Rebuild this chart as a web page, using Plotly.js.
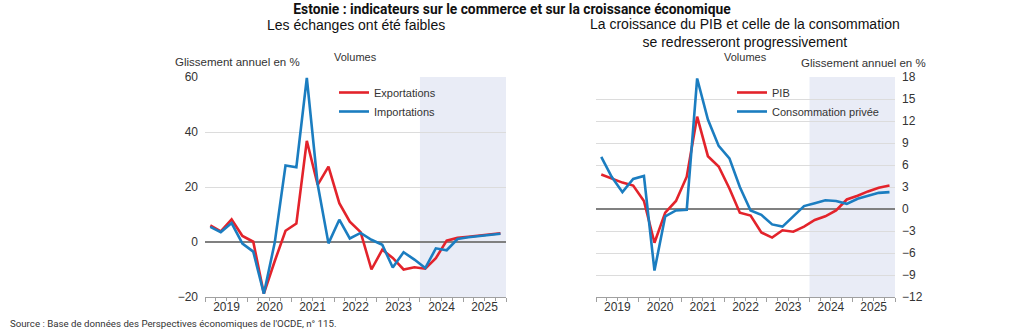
<!DOCTYPE html>
<html><head><meta charset="utf-8">
<script src="https://cdn.plot.ly/plotly-3.0.1.min.js"></script>
<style>html,body{margin:0;padding:0;background:#fff}#chart{width:1024px;height:331px}</style>
</head><body><div id="chart"></div>
<script>
// Quarters (categories)
const quarters = ["2019-T1","2019-T2","2019-T3","2019-T4","2020-T1","2020-T2","2020-T3","2020-T4",
  "2021-T1","2021-T2","2021-T3","2021-T4","2022-T1","2022-T2","2022-T3","2022-T4",
  "2023-T1","2023-T2","2023-T3","2023-T4","2024-T1","2024-T2","2024-T3","2024-T4",
  "2025-T1","2025-T2","2025-T3","2025-T4"];
// Left panel: trade volumes, y-o-y %
const exportations = [6.0,3.9,8.2,2.2,0.1,-18.8,-7.0,4.1,6.7,36.8,20.8,27.4,14.1,7.4,3.6,-10.0,-2.8,-5.8,-10.0,-9.2,-9.7,-5.9,0.5,1.5,1.9,2.3,2.7,3.2];
const importations = [5.5,3.6,6.9,-0.6,-3.5,-18.8,-0.3,27.8,27.2,59.7,21.0,-0.5,8.1,1.3,3.3,0.8,-1.0,-9.3,-3.7,-6.4,-9.5,-2.3,-3.0,1.1,1.7,2.1,2.5,3.0];
// Right panel: GDP and private consumption, y-o-y %
const pib = [4.7,4.2,3.6,3.2,1.1,-4.6,-0.5,1.1,4.4,12.6,7.2,5.8,2.8,-0.5,-0.9,-3.2,-3.9,-2.9,-3.1,-2.4,-1.5,-1.0,-0.2,1.3,1.8,2.4,2.9,3.2];
const consommation = [7.1,4.4,2.3,4.1,4.5,-8.4,-1.0,-0.2,-0.1,17.8,12.2,8.6,6.9,3.0,-0.2,-0.8,-2.1,-2.4,-1.0,0.4,0.8,1.2,1.1,0.7,1.4,1.8,2.2,2.3];
const projectionStart = "2024-01-01";
const rangeEnd = "2026-01-01";

const midMonth = {"T1":"02-15","T2":"05-15","T3":"08-15","T4":"11-15"};
const xDates = quarters.map(q => { const [y,t] = q.split("-"); return y + "-" + midMonth[t]; });

const FONT = "Liberation Sans, Arial, sans-serif";
const NARROW = "Liberation Sans Narrow, Roboto, sans-serif";
const RED = "#e3232b", BLUE = "#1b7dc0";
const W = 1024, H = 331;
const px = v => v / W, py = v => 1 - v / H;

const traces = [
  {x:xDates, y:exportations, name:"Exportations", type:"scatter", mode:"lines", line:{color:RED,width:2.6}, xaxis:"x", yaxis:"y", legend:"legend"},
  {x:xDates, y:importations, name:"Importations", type:"scatter", mode:"lines", line:{color:BLUE,width:2.6}, xaxis:"x", yaxis:"y", legend:"legend"},
  {x:xDates, y:pib, name:"PIB", type:"scatter", mode:"lines", line:{color:RED,width:2.6}, xaxis:"x2", yaxis:"y2", legend:"legend2"},
  {x:xDates, y:consommation, name:"Consommation privée", type:"scatter", mode:"lines", line:{color:BLUE,width:2.6}, xaxis:"x2", yaxis:"y2", legend:"legend2"}
];

function xax(domain, anchor){
  return {type:"date", domain:domain, anchor:anchor, range:["2019-01-01", rangeEnd],
    tick0:"2019-01-01", dtick:"M12", tickformat:"%Y", ticklabelmode:"period",
    ticks:"outside", ticklen:4, tickcolor:"#a0a0a0", showgrid:false,
    showline:true, linecolor:"#a0a0a0", linewidth:1, ticklabelstandoff:-5,
    minor:{dtick:"M3", ticks:"outside", ticklen:2.5, tickcolor:"#a0a0a0", showgrid:false},
    tickfont:{family:FONT, size:12, color:"#333"}, fixedrange:true};
}
function yax(domain, anchor, range, dtick, side){
  return {domain:domain, anchor:anchor, range:range, tick0:0, dtick:dtick, side:side,
    showgrid:true, gridcolor:"#dcdcdc", gridwidth:1,
    zeroline:true, zerolinecolor:"#808080", zerolinewidth:2,
    ticks:"", ticklabelstandoff:6, showline:false,
    tickfont:{family:FONT, size:12, color:"#333"}, fixedrange:true};
}
const yDom = [py(297), py(77)];

const layout = {
  width:W, height:H, margin:{l:0,r:0,t:0,b:0}, paper_bgcolor:"#fff", plot_bgcolor:"rgba(0,0,0,0)",
  showlegend:true,
  title:{text:"Estonie : indicateurs sur le commerce et sur la croissance économique",
    x:0.5, xref:"container", xanchor:"center", y:py(9), yref:"container", yanchor:"middle",
    font:{family:NARROW, size:13.8, color:"#111", weight:"bold"}},
  xaxis:xax([px(205), px(506)], "y"),
  yaxis:yax(yDom, "x", [-20,60], 20, "left"),
  xaxis2:xax([px(596), px(895)], "y2"),
  yaxis2:yax(yDom, "x2", [-12,18], 3, "right"),
  shapes:[
    {type:"rect", xref:"x", yref:"y domain", x0:projectionStart, x1:rangeEnd, y0:0, y1:1, fillcolor:"#e9ecf6", line:{width:0}, layer:"below"},
    {type:"rect", xref:"x2", yref:"y2 domain", x0:projectionStart, x1:rangeEnd, y0:0, y1:1, fillcolor:"#e9ecf6", line:{width:0}, layer:"below"}
  ],
  legend:{x:px(334), y:py(78), xanchor:"left", yanchor:"top", bgcolor:"rgba(0,0,0,0)", borderwidth:0,
    font:{family:FONT, size:11, color:"#333"}, itemwidth:30},
  legend2:{x:px(732), y:py(78), xanchor:"left", yanchor:"top", bgcolor:"rgba(0,0,0,0)", borderwidth:0,
    font:{family:FONT, size:11, color:"#333"}, itemwidth:30},
  annotations:[
    {text:"Les échanges ont été faibles", x:px(355.5), y:py(25.5), xref:"paper", yref:"paper", showarrow:false, xanchor:"center", yanchor:"middle", font:{family:FONT, size:14, color:"#111"}},
    {text:"La croissance du PIB et celle de la consommation<br>se redresseront progressivement", x:px(745), y:py(33), xref:"paper", yref:"paper", showarrow:false, xanchor:"center", yanchor:"middle", font:{family:FONT, size:14, color:"#111"}},
    {text:"Volumes", x:px(355), y:py(57), xref:"paper", yref:"paper", showarrow:false, xanchor:"center", yanchor:"middle", font:{family:FONT, size:11, color:"#333"}},
    {text:"Glissement annuel en %", x:px(237), y:py(62), xref:"paper", yref:"paper", showarrow:false, xanchor:"center", yanchor:"middle", font:{family:FONT, size:11.5, color:"#333"}},
    {text:"Volumes", x:px(745), y:py(57), xref:"paper", yref:"paper", showarrow:false, xanchor:"center", yanchor:"middle", font:{family:FONT, size:11, color:"#333"}},
    {text:"Glissement annuel en %", x:px(863), y:py(63), xref:"paper", yref:"paper", showarrow:false, xanchor:"center", yanchor:"middle", font:{family:FONT, size:11.5, color:"#333"}},
    {text:"Source : Base de données des Perspectives économiques de l'OCDE, n° 115.", x:px(8), y:py(323), xref:"paper", yref:"paper", showarrow:false, xanchor:"left", yanchor:"middle", font:{family:NARROW, size:9.7, color:"#333"}}
  ]
};
Plotly.newPlot("chart", traces, layout, {displayModeBar:false, staticPlot:true});
</script></body></html>
